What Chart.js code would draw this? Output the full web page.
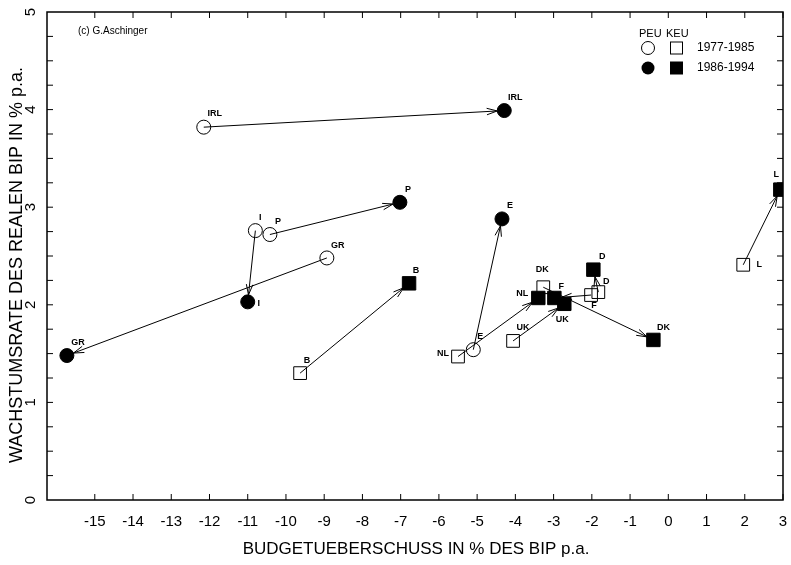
<!DOCTYPE html>
<html>
<head>
<meta charset="utf-8">
<script src="https://cdn.jsdelivr.net/npm/chart.js@4"></script>
<style>
  html, body { margin: 0; padding: 0; background: #fff; }
  #wrap { width: 791px; height: 565px; }
</style>
</head>
<body>
<div id="wrap"><canvas id="chart" width="791" height="565"></canvas></div>
<script>
// PEU countries (circles)
const peuCountries = ['IRL', 'I', 'P', 'GR', 'E'];
const peuX7785 = [-12.15, -10.8, -10.42, -8.93, -5.1];
const peuY7785 = [3.82, 2.76, 2.72, 2.48, 1.54];
const peuX8694 = [-4.29, -11.0, -7.02, -15.73, -4.35];
const peuY8694 = [3.99, 2.03, 3.05, 1.48, 2.88];

// KEU countries (squares)
const keuCountries = ['B', 'NL', 'UK', 'DK', 'D', 'F', 'L'];
const keuX7785 = [-9.63, -5.5, -4.06, -3.27, -1.83, -2.02, 1.96];
const keuY7785 = [1.3, 1.47, 1.63, 2.18, 2.13, 2.1, 2.41];
const keuX8694 = [-6.78, -3.4, -2.72, -0.39, -1.96, -2.98, 2.93];
const keuY8694 = [2.22, 2.07, 2.01, 1.64, 2.36, 2.07, 3.18];

const xTicks = [-15, -14, -13, -12, -11, -10, -9, -8, -7, -6, -5, -4, -3, -2, -1, 0, 1, 2, 3];
const yTicks = [0, 1, 2, 3, 4, 5];
const periods = ['1977-1985', '1986-1994'];

// label offsets (px) per dataset, same order as the countries
const labelOffsets = [
    [[11, -14], [5, -13], [8, -13], [11, -12], [7, -13]],
    [[11, -13], [11, 2], [8, -13], [11, -13], [8, -13]],
    [[7, -13], [-15, -3], [10, -13], [-1, -18], [8, -11], [3, 10], [16, 0]],
    [[7, -13], [-16, -4], [-2, 16], [10, -12], [9, -13], [7, -11], [-4, -15]]
];

const FONT = "'Liberation Sans', 'DejaVu Sans', sans-serif";

function pts(xs, ys) {
    return xs.map((x, i) => ({ x: x, y: ys[i] }));
}

// arrows from 1977-85 position to 1986-94 position
const arrowPlugin = {
    id: 'arrows',
    beforeDatasetsDraw(chart) {
        const ctx = chart.ctx;
        ctx.save();
        ctx.strokeStyle = '#000';
        ctx.lineWidth = 1;
        [[0, 1], [2, 3]].forEach(([a, b]) => {
            const from = chart.getDatasetMeta(a).data;
            const to = chart.getDatasetMeta(b).data;
            from.forEach((p, i) => {
                const q = to[i];
                const ang = Math.atan2(q.y - p.y, q.x - p.x);
                const ex = q.x - Math.cos(ang) * 7;
                const ey = q.y - Math.sin(ang) * 7;
                ctx.beginPath();
                ctx.moveTo(p.x, p.y);
                ctx.lineTo(ex, ey);
                ctx.stroke();
                ctx.beginPath();
                ctx.moveTo(ex - 11 * Math.cos(ang - 0.3), ey - 11 * Math.sin(ang - 0.3));
                ctx.lineTo(ex, ey);
                ctx.lineTo(ex - 11 * Math.cos(ang + 0.3), ey - 11 * Math.sin(ang + 0.3));
                ctx.stroke();
            });
        });
        ctx.restore();
    }
};

// frame, inward ticks, axis labels and titles, point labels, legend, copyright
const decoPlugin = {
    id: 'deco',
    afterDraw(chart) {
        const ctx = chart.ctx;
        const a = chart.chartArea;
        const xs = chart.scales.x, ys = chart.scales.y;
        ctx.save();
        ctx.strokeStyle = '#000';
        ctx.fillStyle = '#000';
        ctx.lineWidth = 1.5;
        ctx.strokeRect(a.left, a.top, a.right - a.left, a.bottom - a.top);

        ctx.lineWidth = 1;
        xTicks.forEach(v => {
            const px = xs.getPixelForValue(v);
            ctx.beginPath();
            ctx.moveTo(px, a.bottom); ctx.lineTo(px, a.bottom - 6);
            ctx.moveTo(px, a.top); ctx.lineTo(px, a.top + 6);
            ctx.stroke();
        });
        for (let v = 0.25; v < 5; v += 0.25) {
            const py = ys.getPixelForValue(v);
            ctx.beginPath();
            ctx.moveTo(a.left, py); ctx.lineTo(a.left + 6, py);
            ctx.moveTo(a.right, py); ctx.lineTo(a.right - 6, py);
            ctx.stroke();
        }

        ctx.font = '15px ' + FONT;
        ctx.textAlign = 'center';
        ctx.textBaseline = 'middle';
        // x tick labels
        xTicks.forEach(v => {
            ctx.fillText(v < 0 ? '-' + Math.abs(v) : String(v), xs.getPixelForValue(v), a.bottom + 22);
        });
        // rotated y tick labels
        yTicks.forEach(v => {
            const py = ys.getPixelForValue(v);
            ctx.save();
            ctx.translate(31, py);
            ctx.rotate(-Math.PI / 2);
            ctx.fillText(String(v), 0, 0);
            ctx.restore();
        });

        // axis titles
        ctx.font = '17px ' + FONT;
        ctx.fillText('BUDGETUEBERSCHUSS IN % DES BIP p.a.', (a.left + a.right) / 2 + 1, a.bottom + 49);
        ctx.save();
        ctx.font = '18px ' + FONT;
        ctx.translate(17, (a.top + a.bottom) / 2 + 9);
        ctx.rotate(-Math.PI / 2);
        ctx.fillText('WACHSTUMSRATE DES REALEN BIP IN % p.a.', 0, 0);
        ctx.restore();

        // point labels
        ctx.font = 'bold 9px ' + FONT;
        const names = [peuCountries, peuCountries, keuCountries, keuCountries];
        names.forEach((list, d) => {
            chart.getDatasetMeta(d).data.forEach((p, i) => {
                const off = labelOffsets[d][i];
                ctx.fillText(list[i], p.x + off[0], p.y + off[1]);
            });
        });

        // copyright
        ctx.font = '10px ' + FONT;
        ctx.textAlign = 'left';
        ctx.fillText('(c) G.Aschinger', 78, 31);

        // legend
        ctx.font = '11px ' + FONT;
        ctx.fillText('PEU', 639, 34);
        ctx.fillText('KEU', 666, 34);
        ctx.font = '12px ' + FONT;
        ctx.lineWidth = 1;
        [48, 68].forEach((ly, k) => {
            ctx.beginPath();
            ctx.arc(648, ly, 6.5, 0, Math.PI * 2);
            if (k) ctx.fill(); else ctx.stroke();
            if (k) ctx.fillRect(670, ly - 6.5, 13, 13);
            else ctx.strokeRect(670.5, ly - 6, 12, 12);
            ctx.fillText(periods[k], 697, ly);
        });
        ctx.restore();
    }
};

const openStyle = { backgroundColor: 'rgba(0,0,0,0)', borderColor: '#000', borderWidth: 1 };
const fillStyle = { backgroundColor: '#000', borderColor: '#000', borderWidth: 1 };

new Chart(document.getElementById('chart'), {
    type: 'scatter',
    data: {
        datasets: [
            Object.assign({ label: 'PEU ' + periods[0], data: pts(peuX7785, peuY7785), pointStyle: 'circle', pointRadius: 7 }, openStyle),
            Object.assign({ label: 'PEU ' + periods[1], data: pts(peuX8694, peuY8694), pointStyle: 'circle', pointRadius: 7 }, fillStyle),
            Object.assign({ label: 'KEU ' + periods[0], data: pts(keuX7785, keuY7785), pointStyle: 'rect', pointRadius: 9 }, openStyle),
            Object.assign({ label: 'KEU ' + periods[1], data: pts(keuX8694, keuY8694), pointStyle: 'rect', pointRadius: 9.5 }, fillStyle)
        ]
    },
    options: {
        responsive: false,
        animation: false,
        devicePixelRatio: 1,
        layout: { autoPadding: false, padding: { top: 12, right: 8, left: 0, bottom: 0 } },
        plugins: { legend: { display: false }, tooltip: { enabled: false } },
        scales: {
            x: {
                type: 'linear',
                min: -16.25,
                max: 3,
                afterBuildTicks: s => { s.ticks = xTicks.map(v => ({ value: v })); },
                afterFit: s => { s.height = 65; },
                grid: { display: false, drawTicks: false },
                border: { display: false },
                ticks: { display: false },
                title: { display: false }
            },
            y: {
                type: 'linear',
                min: 0,
                max: 5,
                afterFit: s => { s.width = 47; },
                grid: { display: false, drawTicks: false },
                border: { display: false },
                ticks: { display: false },
                title: { display: false }
            }
        }
    },
    plugins: [arrowPlugin, decoPlugin]
});
</script>
</body>
</html>
